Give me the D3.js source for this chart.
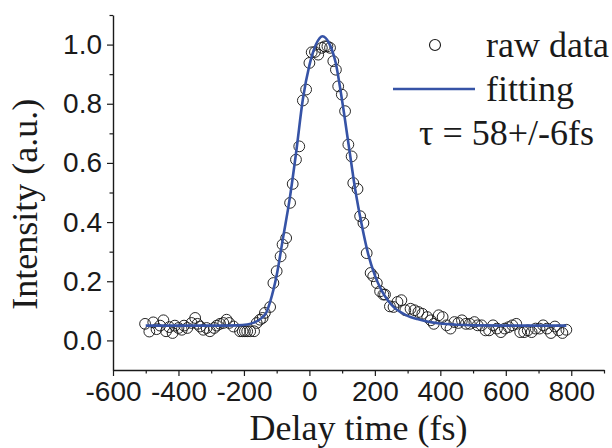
<!DOCTYPE html>
<html lang="en">
<head>
    <meta charset="UTF-8">
    <title>Delay time scan</title>
    <script src="https://cdn.jsdelivr.net/npm/d3@7/dist/d3.min.js"></script>
    <style>
        body { margin: 0; background: #fff; }
    </style>
</head>
<body>
<script>
    // raw data points (delay in fs, intensity in a.u.)
    const rawX = [-502, -489, -477, -467, -456, -446, -438, -428, -418, -411, -400, -390, -383, -373, -360, -349,
        -342, -334, -324, -314, -304, -291, -283, -273, -263, -253, -245, -232, -212, -204, -197, -190, -181,
        -169, -161, -151, -143, -136, -120, -110, -100, -88, -82, -71, -59, -51, -41, -31, -20, -10, 0, 7, 17,
        27, 38, 47, 55, 63, 73, 81, 88, 99, 109, 119, 129, 134, 147, 155, 165, 175, 187, 195, 206, 216, 226,
        231, 246, 257, 269, 281, 293, 309, 321, 333, 345, 360, 371, 380, 395, 407, 419, 431, 443, 455, 466,
        478, 490, 504, 514, 526, 538, 549, 561, 573, 585, 597, 609, 620, 632, 644, 656, 667, 679, 691, 703,
        714, 726, 738, 750, 761, 773, 785]
    const rawY = [0.056, 0.030, 0.061, 0.038, 0.050, 0.068, 0.031, 0.045, 0.025, 0.050, 0.042, 0.036, 0.050, 0.042,
        0.059, 0.076, 0.056, 0.047, 0.036, 0.042, 0.031, 0.042, 0.050, 0.056, 0.059, 0.070, 0.059, 0.047, 0.031,
        0.031, 0.031, 0.031, 0.031, 0.031, 0.059, 0.070, 0.076, 0.093, 0.113, 0.194, 0.234, 0.284, 0.324, 0.346,
        0.465, 0.529, 0.611, 0.656, 0.811, 0.848, 0.938, 0.974, 0.975, 0.966, 0.989, 0.994, 0.994, 0.989, 0.944,
        0.915, 0.859, 0.831, 0.775, 0.662, 0.622, 0.532, 0.512, 0.420, 0.397, 0.295, 0.228, 0.217, 0.194, 0.166,
        0.155, 0.155, 0.115, 0.113, 0.130, 0.136, 0.102, 0.107, 0.102, 0.096, 0.090, 0.079, 0.068, 0.056, 0.085,
        0.079, 0.051, 0.040, 0.062, 0.059, 0.068, 0.056, 0.056, 0.062, 0.051, 0.051, 0.034, 0.034, 0.051, 0.040,
        0.028, 0.040, 0.045, 0.051, 0.056, 0.028, 0.028, 0.034, 0.028, 0.040, 0.040, 0.051, 0.040, 0.025, 0.047,
        0.034, 0.025, 0.036]

    // fitted curve
    const fitX = [-500, -300, -220, -190, -170, -150, -130, -120, -100, -80, -60, -40, -20, 0, 20, 40, 60, 80, 100,
        120, 140, 160, 180, 200, 220, 240, 260, 280, 300, 330, 360, 400, 450, 500, 600, 785]
    const fitY = [0.05, 0.05, 0.051, 0.054, 0.06, 0.072, 0.098, 0.13, 0.22, 0.35, 0.48, 0.64, 0.815, 0.93, 1.0,
        1.028, 1.005, 0.94, 0.81, 0.66, 0.51, 0.39, 0.29, 0.22, 0.17, 0.135, 0.11, 0.095, 0.083, 0.072, 0.064,
        0.057, 0.053, 0.051, 0.05, 0.05]

    const xTicks = [-600, -400, -200, 0, 200, 400, 600, 800]
    const xMinor = [-500, -300, -100, 100, 300, 500, 700, 900]
    const yTicks = [0.0, 0.2, 0.4, 0.6, 0.8, 1.0]
    const yMinor = [0.1, 0.3, 0.5, 0.7, 0.9, 1.1]

    const [width, height] = [612, 448]
    const x = d3.scaleLinear().domain([-600, 900]).range([113, 604])
    const y = d3.scaleLinear().domain([-0.1, 1.1]).range([370, 15])

    const svg = d3.select('body').append('svg')
        .attr('width', width)
        .attr('height', height)

    const sans = "'Liberation Sans', Arial, sans-serif"
    const serif = "'Liberation Serif', 'Times New Roman', serif"
    const ink = '#1a1a1a'
    const blue = '#3653a6'

    // x axis
    const xAxis = svg.append('g').attr('transform', `translate(0,${y(-0.1)})`)
        .call(d3.axisBottom(x).tickValues(xTicks).tickSize(6).tickSizeOuter(0).tickPadding(5)
            .tickFormat(d => String(d)))
    xAxis.append('g')
        .call(d3.axisBottom(x).tickValues(xMinor).tickSize(3.5).tickSizeOuter(0).tickFormat(''))
        .select('.domain').remove()
    xAxis.selectAll('text')
        .attr('font-family', sans).attr('font-size', 28).attr('fill', ink)

    // y axis
    const yAxis = svg.append('g').attr('transform', `translate(${x(-600)},0)`)
        .call(d3.axisLeft(y).tickValues(yTicks).tickSize(6).tickSizeOuter(0).tickPadding(5)
            .tickFormat(d3.format('.1f')))
    yAxis.append('g')
        .call(d3.axisLeft(y).tickValues(yMinor).tickSize(3.5).tickSizeOuter(0).tickFormat(''))
        .select('.domain').remove()
    yAxis.selectAll('text')
        .attr('font-family', sans).attr('font-size', 28).attr('fill', ink)
    svg.selectAll('.domain').attr('stroke', ink).attr('stroke-width', 1.4)
    svg.selectAll('.tick line').attr('stroke', ink).attr('stroke-width', 1.2)

    // raw data circles
    const raw = rawX.map((d, i) => ({x: d, y: rawY[i]}))
    svg.append('g').selectAll('circle').data(raw)
        .enter().append('circle')
        .attr('cx', d => x(d.x))
        .attr('cy', d => y(d.y))
        .attr('r', 5.4)
        .attr('fill', 'none')
        .attr('stroke', ink)
        .attr('stroke-width', 0.95)

    // fitting line
    const fit = fitX.map((d, i) => ({x: d, y: fitY[i]}))
    const line = d3.line().x(d => x(d.x)).y(d => y(d.y)).curve(d3.curveMonotoneX)
    svg.append('path').datum(fit)
        .attr('d', line)
        .attr('fill', 'none')
        .attr('stroke', blue)
        .attr('stroke-width', 2.6)

    // axis titles
    svg.append('text')
        .attr('x', x(150)).attr('y', 440)
        .attr('text-anchor', 'middle')
        .attr('font-family', serif).attr('font-size', 36).attr('fill', ink)
        .text('Delay time (fs)')
    svg.append('text')
        .attr('transform', `translate(37,${y(0.46)}) rotate(-90)`)
        .attr('text-anchor', 'middle')
        .attr('font-family', serif).attr('font-size', 36).attr('fill', ink)
        .text('Intensity (a.u.)')

    // legend
    const legend = svg.append('g')
    legend.append('circle')
        .attr('cx', 435).attr('cy', 45).attr('r', 5.5)
        .attr('fill', 'none').attr('stroke', ink).attr('stroke-width', 1.1)
    legend.append('line')
        .attr('x1', 393).attr('x2', 475).attr('y1', 89).attr('y2', 89)
        .attr('stroke', blue).attr('stroke-width', 2.6)
    const legendText = [['raw data', 486, 57], ['fitting', 486, 101], ['τ = 58+/-6fs', 419, 145]]
    legend.selectAll('text').data(legendText)
        .enter().append('text')
        .attr('x', d => d[1]).attr('y', d => d[2])
        .attr('font-family', serif).attr('font-size', 36).attr('fill', ink)
        .text(d => d[0])
</script>
</body>
</html>
